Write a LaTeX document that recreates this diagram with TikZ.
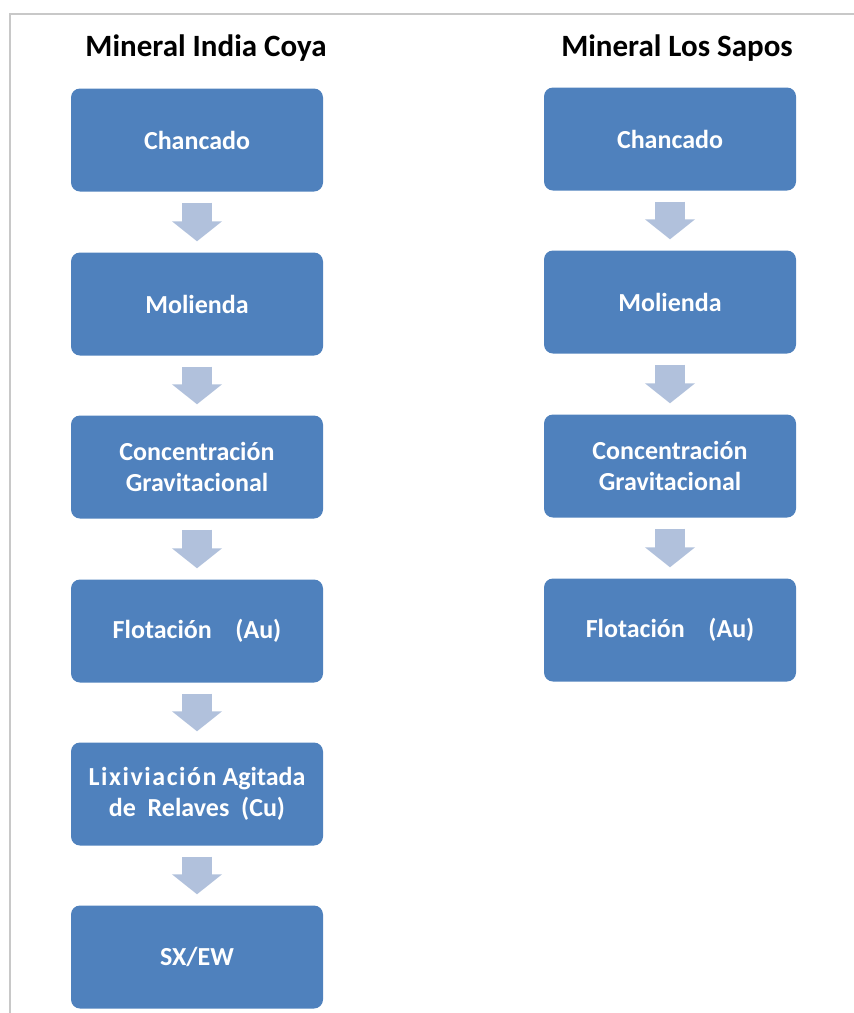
\documentclass[tikz,border=0pt]{standalone}
\usepackage{fontspec}
\setmainfont{Carlito}
\usetikzlibrary{arrows.meta,positioning}
\definecolor{stepblue}{HTML}{4F81BD}
\definecolor{flowblue}{HTML}{B1C1DC}
\definecolor{framegray}{HTML}{C8C8C8}
\begin{document}
\begin{tikzpicture}[x=1pt,y=-1pt,
  stepbox/.style={fill=stepblue, draw=none, rounded corners=9pt,
    minimum width=252pt, minimum height=103pt, inner sep=0pt,
    text=white, align=center,
    font=\fontsize{26}{31}\selectfont\bfseries},
  heading/.style={font=\fontsize{31}{36}\selectfont\bfseries, text=black, inner sep=0pt},
  flow/.style={draw=flowblue, line width=30pt, shorten <=11pt, shorten >=11pt,
    -{Triangle[width=49pt,length=20pt]}}]
\useasboundingbox (0,0) rectangle (854,1013);
% frame
\draw[framegray, line width=2pt] (10,1013) -- (10,14) -- (854,14);

% titles
\node[heading] (tl) at (206,48) {Mineral India Coya};
\node[heading] (tr) at (677,48) {Mineral Los Sapos};

% India Coya process
\node[stepbox] (l1) at (197,140) {Chancado};
\node[stepbox] (l2) at (197,304) {Molienda};
\node[stepbox] (l3) at (197,467) {Concentración\\Gravitacional};
\node[stepbox] (l4) at (197,631) {Flotación\ \ \ \ (Au)};
\node[stepbox] (l5) at (197,794) {{\addfontfeature{LetterSpace=6}Lixiviación} Agitada\\de\ \ Relaves\ \ (Cu)};
\node[stepbox] (l6) at (197,957) {SX/EW};

% Los Sapos process
\node[stepbox] (r1) at (670,139) {Chancado};
\node[stepbox] (r2) at (670,302) {Molienda};
\node[stepbox] (r3) at (670,466) {Concentración\\Gravitacional};
\node[stepbox] (r4) at (670,630) {Flotación\ \ \ \ (Au)};

% flow arrows
\foreach \a/\b in {l1/l2,l2/l3,l3/l4,l4/l5,l5/l6,r1/r2,r2/r3,r3/r4}
  \draw[flow] (\a.south) -- (\b.north);
\end{tikzpicture}
\end{document}
